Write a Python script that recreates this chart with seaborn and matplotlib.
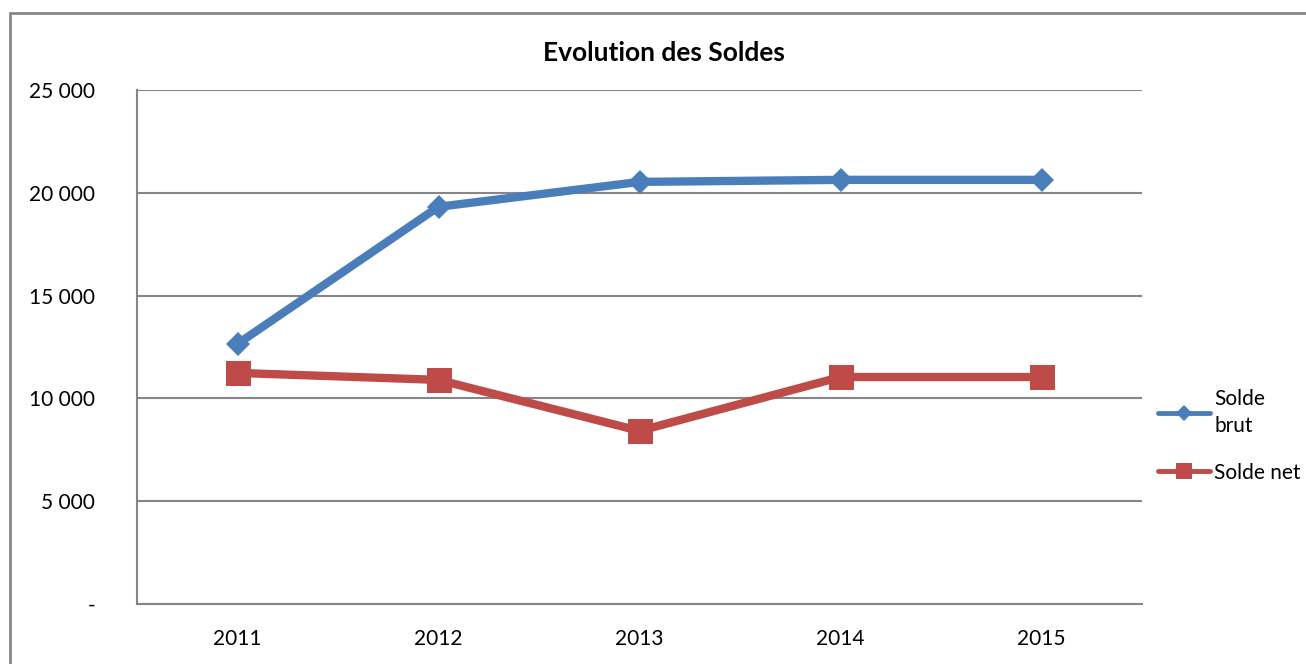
import pandas as pd
import numpy as np
import seaborn as sns
import matplotlib.pyplot as plt
from matplotlib.lines import Line2D
from matplotlib.ticker import FuncFormatter

# values
annees = ["2011", "2012", "2013", "2014", "2015"]
solde_brut = [12650, 19320, 20530, 20630, 20630]
solde_net = [11240, 10900, 8420, 11040, 11040]

bleu = "#4A7EBB"
rouge = "#BE4B48"
gris = "#868686"

sns.set_style("white")
plt.rcParams["font.family"] = ["Lato", "DejaVu Sans"]
plt.rcParams["text.color"] = "black"

df = pd.DataFrame({"annee": np.arange(len(annees)), "brut": solde_brut, "net": solde_net})

fig = plt.figure(figsize=(13.06, 6.64), dpi=100)
ax = fig.add_axes([137 / 1306, 60 / 664, 1005 / 1306, 514 / 664])

sns.lineplot(data=df, x="annee", y="brut", ax=ax, color=bleu, linewidth=6,
             marker="D", markersize=12, markeredgewidth=0, zorder=4)
sns.lineplot(data=df, x="annee", y="net", ax=ax, color=rouge, linewidth=6,
             marker="s", markersize=18, markeredgewidth=0, zorder=3)

ax.set_xlim(-0.5, len(annees) - 0.5)
ax.set_ylim(0, 25000)
ax.set_yticks(range(0, 25001, 5000))
ax.yaxis.set_major_formatter(FuncFormatter(
    lambda v, p: "-" if v == 0 else f"{int(v):,}".replace(",", " ")))
ax.set_xticks(range(len(annees)))
ax.set_xticklabels(annees)
ax.set_xticks(np.arange(-0.5, len(annees), 1), minor=True)
ax.tick_params(axis="x", which="major", length=0, pad=18, labelsize=15, labelcolor="black")
ax.tick_params(axis="x", which="minor", length=6, width=1.5, color=gris, direction="out")
ax.tick_params(axis="y", length=7, width=1.5, color=gris, direction="out", pad=23,
               labelsize=15, labelcolor="black")

ax.grid(axis="y", color=gris, linewidth=1.5)
ax.set_axisbelow(True)
for s in ["top", "right"]:
    ax.spines[s].set_visible(False)
for s in ["left", "bottom"]:
    ax.spines[s].set_color(gris)
    ax.spines[s].set_linewidth(1.5)
ax.set_xlabel("")
ax.set_ylabel("")

fig.text(664 / 1306, 1 - 53 / 664, "Evolution des Soldes", ha="center", va="center",
         fontsize=19, fontweight="bold")

handles = [
    Line2D([], [], color=bleu, linewidth=3.5, marker="D", markersize=8, markeredgewidth=0),
    Line2D([], [], color=rouge, linewidth=3.5, marker="s", markersize=11, markeredgewidth=0),
]
leg = ax.legend(handles, ["Solde\nbrut", "Solde net"], loc="center left",
                bbox_to_anchor=(1139 / 1306, 1 - 436 / 664), bbox_transform=fig.transFigure,
                frameon=False, fontsize=15, handlelength=2.5, handletextpad=0.2,
                labelspacing=1.3)
for t in leg.get_texts():
    t.set_linespacing(1.4)

# outer chart frame
fig.add_artist(Line2D([10 / 1306, 10 / 1306], [0, 1 - 13 / 664], color=gris, linewidth=2))
fig.add_artist(Line2D([10 / 1306, 1], [1 - 13 / 664, 1 - 13 / 664], color=gris, linewidth=2))

fig.savefig("out.png", dpi=100)
